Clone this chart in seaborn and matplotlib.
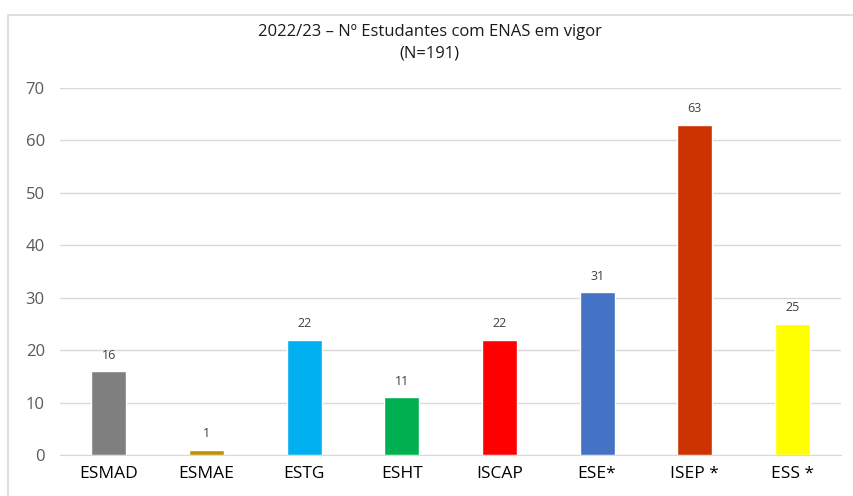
import matplotlib
matplotlib.use('Agg')
import matplotlib.pyplot as plt
import seaborn as sns
import pandas as pd
from matplotlib.patches import Rectangle

# data
schools = ['ESMAD', 'ESMAE', 'ESTG', 'ESHT', 'ISCAP', 'ESE*', 'ISEP *', 'ESS *']
students = [16, 1, 22, 11, 22, 31, 63, 25]
bar_colors = ['#7f7f7f', '#bf9000', '#00b0f0', '#00b050', '#ff0000',
              '#4472c4', '#cc3300', '#ffff00']
y_ticks = [0, 10, 20, 30, 40, 50, 60, 70]

df = pd.DataFrame({'school': schools, 'n': students})

sns.set_style('white')
plt.rcParams['font.family'] = ['Open Sans', 'DejaVu Sans']

fig = plt.figure(figsize=(8.54, 4.96), dpi=100)
ax = fig.add_axes([0.0703, 0.0827, 0.9147, 0.74])

sns.barplot(data=df, x='school', y='n', hue='school',
            palette=dict(zip(schools, bar_colors)), legend=False,
            width=0.36, saturation=1, ax=ax)

for i, v in enumerate(students):
    ax.text(i, v + 1.8, str(v), ha='center', va='bottom',
            fontsize=9, color='#404040')

ax.set_ylim(0, 70)
ax.set_xlim(-0.5, len(schools) - 0.5)
ax.set_yticks(y_ticks)
ax.yaxis.grid(True, color='#d9d9d9', linewidth=1)
ax.set_axisbelow(True)
for s in ['top', 'right', 'left']:
    ax.spines[s].set_visible(False)
ax.spines['bottom'].set_color('#d9d9d9')
ax.tick_params(axis='y', labelsize=12, colors='#595959', length=0, pad=11)
ax.tick_params(axis='x', labelsize=12.5, colors='black', length=0, pad=8)
ax.set_xlabel('')
ax.set_ylabel('')

fig.text(0.503, 0.935, '2022/23 – Nº Estudantes com ENAS em vigor',
         ha='center', va='center', fontsize=12, color='#1a1a1a')
fig.text(0.503, 0.893, '(N=191)', ha='center', va='center',
         fontsize=12, color='#1a1a1a')

# chart frame
fig.patches.append(Rectangle((0.009, -0.05), 1.2, 1.02, transform=fig.transFigure,
                             fill=False, edgecolor='#d9d9d9', linewidth=1.2))

fig.savefig('out.png', dpi=100)
